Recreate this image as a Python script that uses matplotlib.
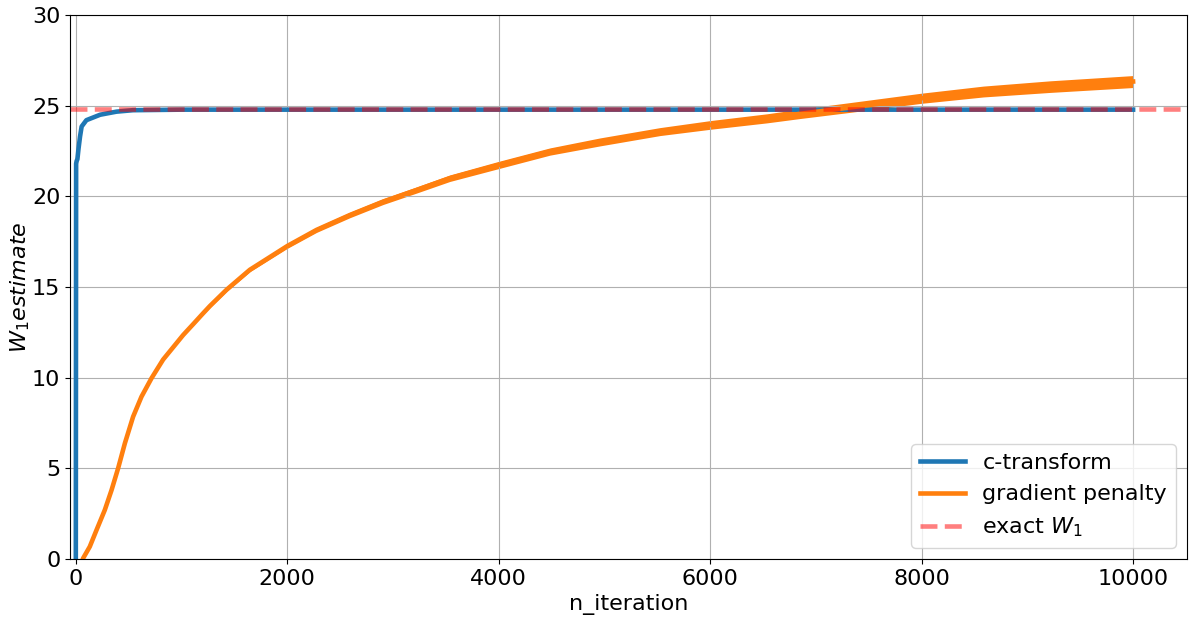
"""
  W1 estimate vs iteration: c-transform vs gradient penalty.
"""

import numpy as np
import matplotlib.pyplot as plt

################################################################################
# Data.                                                  #
################################################################################

it_ct = [0, 3, 8, 15, 25, 40, 55, 100, 230, 385, 540, 1000, 10000]
w_ct = [0.0, 21.8, 21.95, 22.05, 22.6, 23.3, 23.85, 24.2, 24.5, 24.67, 24.75, 24.78, 24.78]

it_gp = [0, 50, 69, 132, 196, 274, 338, 400, 464, 542, 621, 716, 826, 952, 1015,
         1110, 1204, 1268, 1426, 1646, 2000, 2277, 2592, 2907, 3223, 3538, 4000,
         4484, 4957, 5525, 6005, 6535, 6849, 7323, 8000, 8584, 9215, 10000]
w_gp = [-0.3, -0.3, 0.04, 0.68, 1.6, 2.7, 3.8, 5.0, 6.38, 7.85, 8.95, 9.97, 11.0, 11.9, 12.35,
        12.95, 13.55, 13.95, 14.85, 15.95, 17.26, 18.15, 18.97, 19.71, 20.35, 21.0, 21.73,
        22.47, 23.0, 23.57, 23.94, 24.3, 24.55, 24.9, 25.41, 25.78, 26.05, 26.33]
# half-width of the noisy band around the gradient penalty curve
spread_gp = [0, 0, 0, 0, 0, 0, 0, 0, 0, 0, 0, 0.02, 0.03, 0.05, 0.06,
             0.07, 0.08, 0.09, 0.1, 0.11, 0.13, 0.14, 0.15, 0.16, 0.17, 0.18, 0.2,
             0.2, 0.22, 0.22, 0.24, 0.25, 0.26, 0.27, 0.28, 0.3, 0.32, 0.33]

w1_exact = 24.8

################################################################################
# Plot.                                                                        #
################################################################################

plt.rcParams['font.size'] = 16

fig = plt.figure(figsize=(11.93, 6.18), dpi=100)
ax = fig.add_axes([70/1193, 1 - 559/618, (1187-70)/1193, (559-15)/618])

y_gp = np.array(w_gp)
s_gp = np.array(spread_gp)

ax.plot(it_ct, w_ct, '-', c='C0', lw=3.3, label='c-transform')
ax.fill_between(it_gp, y_gp - s_gp, y_gp + s_gp, color='C1', lw=0)
ax.plot(it_gp, w_gp, '-', c='C1', lw=3.3, label='gradient penalty')
ax.axhline(w1_exact, ls='--', c='r', alpha=0.5, lw=3.3, label='exact $W_1$')

ax.set_xlim(-55, 10510)
ax.set_ylim(0, 30)
ax.grid(True)
ax.set_xlabel('n_iteration')
ax.set_ylabel('$W_1 estimate$', labelpad=0)
ax.legend(loc='lower right')
fig.savefig('out.png', dpi=100)
plt.close()
